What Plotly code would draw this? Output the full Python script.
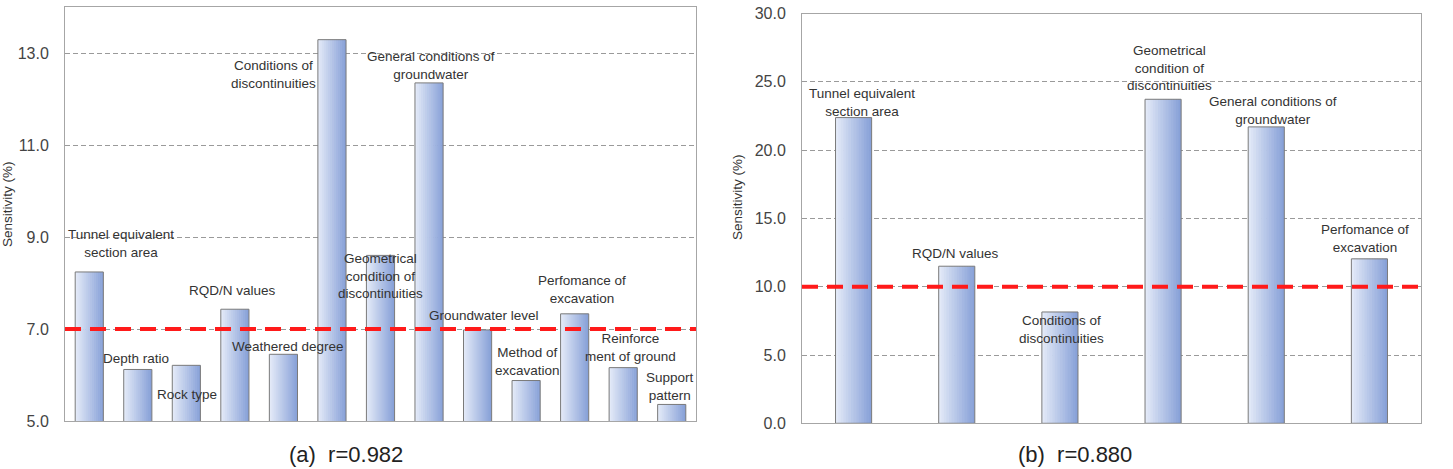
import plotly.graph_objects as go

# ---------------- data ----------------
cats_a = ["Tunnel equivalent section area", "Depth ratio", "Rock type", "RQD/N values",
          "Weathered degree", "Conditions of discontinuities",
          "Geometrical condition of discontinuities", "General conditions of groundwater",
          "Groundwater level", "Method of excavation", "Perfomance of excavation",
          "Reinforcement of ground", "Support pattern"]
vals_a = [8.24, 6.12, 6.21, 7.43, 6.45, 13.29, 8.6, 12.35, 6.98, 5.88, 7.33, 6.16, 5.36]
labels_a = ["Tunnel equivalent<br>section area", "Depth ratio", "Rock type", "RQD/N values",
            "Weathered degree", "Conditions of<br>discontinuities",
            "Geometrical<br>condition of<br>discontinuities", "General conditions of<br>groundwater",
            "Groundwater level", "Method of<br>excavation", "Perfomance of<br>excavation",
            "Reinforce<br>ment of ground", "Support<br>pattern"]
threshold_a = 7.0
ticks_a = [5, 7, 9, 11, 13]
caption_a = "(a)  r=0.982"

cats_b = ["Tunnel equivalent section area", "RQD/N values", "Conditions of discontinuities",
          "Geometrical condition of discontinuities", "General conditions of groundwater",
          "Perfomance of excavation"]
vals_b = [22.38, 11.5, 8.15, 23.72, 21.7, 12.04]
labels_b = ["Tunnel equivalent<br>section area", "RQD/N values", "Conditions of<br>discontinuities",
            "Geometrical<br>condition of<br>discontinuities", "General conditions of<br>groundwater",
            "Perfomance of<br>excavation"]
threshold_b = 10.0
ticks_b = [0, 5, 10, 15, 20, 25, 30]
caption_b = "(b)  r=0.880"

ytitle = "Sensitivity (%)"

# ---------------- layout helpers (positions of labels, in axis units) ----------------
label_pos_a = [(0.65, 8.85), (0.96, 6.35), (2.02, 5.57), (2.96, 7.83), (4.09, 6.62),
               (3.79, 12.54), (5.99, 8.15), (7.04, 12.72), (8.14, 7.30), (9.02, 6.30),
               (10.15, 7.85), (11.16, 6.59), (11.96, 5.76)]
label_pos_b = [(0.08, 23.5), (0.99, 12.43), (2.02, 6.9), (3.06, 26.03), (4.07, 22.87),
               (4.96, 13.53)]

W, H = 1453, 469
FONT = "Liberation Sans, Arial, sans-serif"
N_SLICES = 14
c0 = (226, 233, 247)
c1 = (136, 161, 216)

fig = go.Figure()


def add_bars(vals, w, xa, ya):
    xs = list(range(len(vals)))
    step = w / N_SLICES
    for k in range(N_SLICES):
        t = k / (N_SLICES - 1)
        col = "rgb(%d,%d,%d)" % tuple(round(a + (b - a) * t) for a, b in zip(c0, c1))
        wid = step * 1.25 if k < N_SLICES - 1 else step
        fig.add_trace(go.Bar(x=xs, y=vals, width=wid, offset=-w / 2 + k * step,
                             marker=dict(color=col, line=dict(width=0)),
                             xaxis=xa, yaxis=ya, hoverinfo="skip", showlegend=False))
    fig.add_trace(go.Bar(x=xs, y=vals, width=w, offset=-w / 2,
                         marker=dict(color="rgba(0,0,0,0)", line=dict(color="#7a7a7a", width=1)),
                         xaxis=xa, yaxis=ya, hoverinfo="skip", showlegend=False))


add_bars(vals_a, 0.58, "x", "y")
add_bars(vals_b, 0.35, "x2", "y2")

grid = dict(showgrid=True, gridcolor="#9a9a9a", griddash="5px,3px", gridwidth=1,
            showline=True, linecolor="#a6a6a6", linewidth=1, mirror=True, zeroline=False,
            ticks="", tickfont=dict(family=FONT, size=16, color="#444444"),
            ticklabelstandoff=12, fixedrange=True, automargin=False)
xcommon = dict(showticklabels=False, showgrid=False, showline=True, linecolor="#a6a6a6",
               linewidth=1, mirror=True, zeroline=False, ticks="", fixedrange=True,
               automargin=False)

fig.update_layout(
    width=W, height=H, margin=dict(l=0, r=0, t=0, b=0, autoexpand=False),
    paper_bgcolor="white", plot_bgcolor="white", barmode="overlay", showlegend=False,
    xaxis=dict(domain=[65 / W, 696 / W], range=[-0.5, len(vals_a) - 0.5], anchor="y", **xcommon),
    yaxis=dict(domain=[48 / H, 462 / H], range=[5, 14], tickvals=ticks_a,
               ticktext=["%.1f" % v for v in ticks_a], anchor="x", **grid),
    xaxis2=dict(domain=[802 / W, 1421 / W], range=[-0.5, len(vals_b) - 0.5], anchor="y2", **xcommon),
    yaxis2=dict(domain=[45.7 / H, 455.5 / H], range=[0, 30], tickvals=ticks_b,
                ticktext=["%.1f" % v for v in ticks_b], anchor="x2", **grid),
)

shapes = []
for thr, xr, yr in [(threshold_a, "x domain", "y"), (threshold_b, "x2 domain", "y2")]:
    shapes.append(dict(type="line", xref=xr, yref=yr, x0=0, x1=1, y0=thr, y1=thr,
                       line=dict(color="#ff1a1a", width=4, dash="16px,9px"), layer="above"))
fig.update_layout(shapes=shapes)

ann = []
lab_font = dict(family=FONT, size=13.5, color="#333333")
for txt, (px, py) in zip(labels_a, label_pos_a):
    ann.append(dict(text=txt, x=px, y=py, xref="x", yref="y", showarrow=False, font=lab_font,
                    xanchor="center", yanchor="middle", align="center"))
for txt, (px, py) in zip(labels_b, label_pos_b):
    ann.append(dict(text=txt, x=px, y=py, xref="x2", yref="y2", showarrow=False, font=lab_font,
                    xanchor="center", yanchor="middle", align="center"))
ttl_font = dict(family=FONT, size=13.5, color="#333333")
ann.append(dict(text=ytitle, x=7 / W, y=(H - 204) / H, xref="paper", yref="paper", textangle=-90,
                showarrow=False, font=ttl_font, xanchor="center", yanchor="middle"))
ann.append(dict(text=ytitle, x=737 / W, y=(H - 197) / H, xref="paper", yref="paper", textangle=-90,
                showarrow=False, font=ttl_font, xanchor="center", yanchor="middle"))
cap_font = dict(family=FONT, size=22, color="#222222")
ann.append(dict(text=caption_a, x=346 / W, y=0.0, xref="paper", yref="paper",
                showarrow=False, font=cap_font, xanchor="center", yanchor="bottom"))
ann.append(dict(text=caption_b, x=1075 / W, y=0.0, xref="paper", yref="paper",
                showarrow=False, font=cap_font, xanchor="center", yanchor="bottom"))
fig.update_layout(annotations=ann)

fig.write_html("out.html")
